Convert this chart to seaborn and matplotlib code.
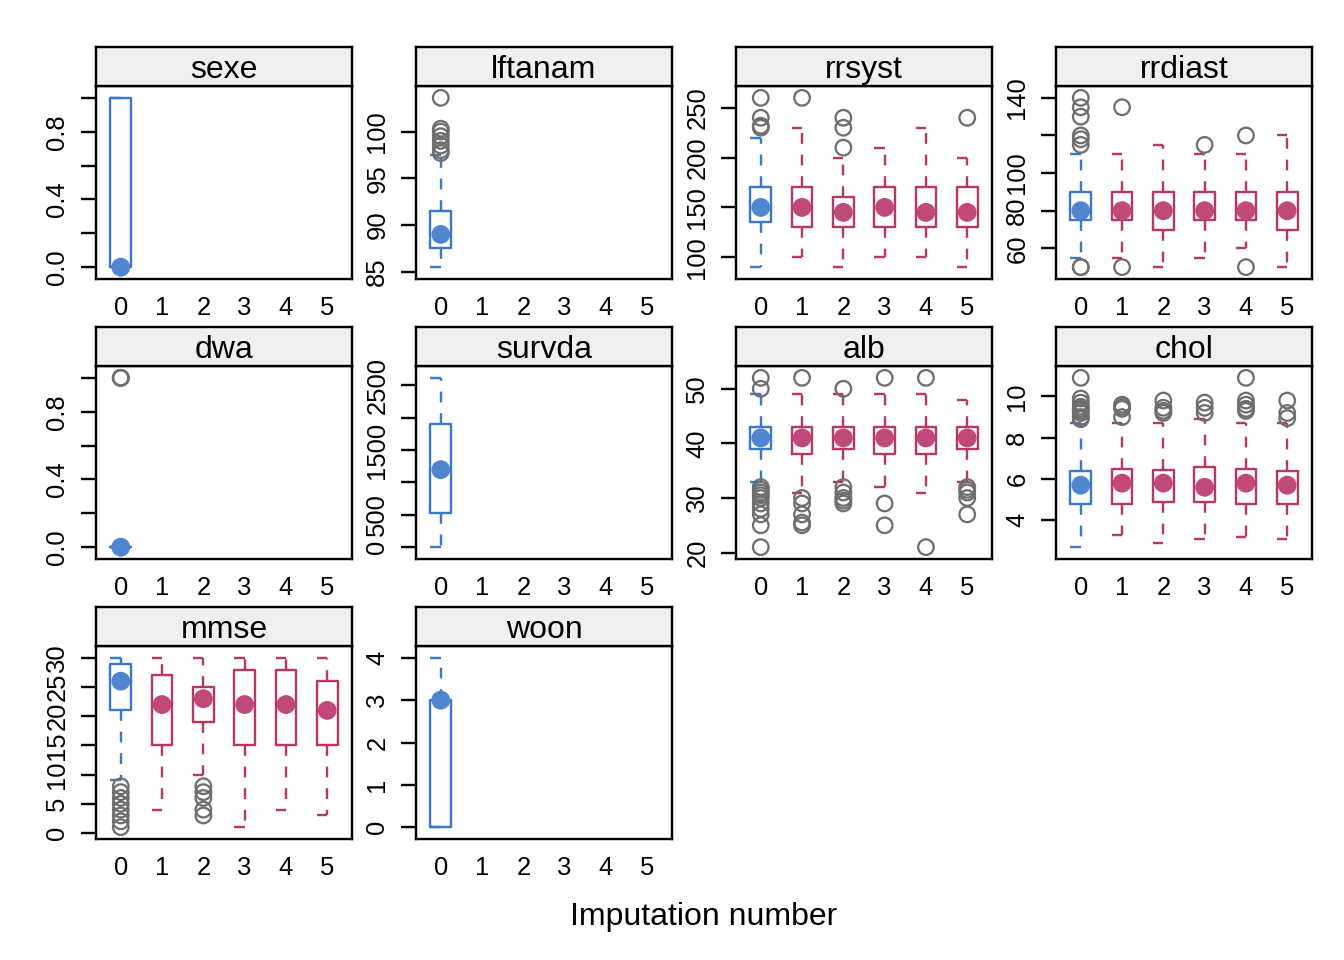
import numpy as np
import pandas as pd
import matplotlib
matplotlib.use("Agg")
import matplotlib.pyplot as plt
import seaborn as sns

# ---------------- data ----------------
imputations = [0, 1, 2, 3, 4, 5]
variables = ["sexe", "lftanam", "rrsyst", "rrdiast",
             "dwa", "survda", "alb", "chol",
             "mmse", "woon"]

# box stats per imputation: (whisker_low, q1, median, q3, whisker_high)
sexe_stats = [(0, 0, 0, 1, 1)]
sexe_out = [[]]

lftanam_stats = [(85.5, 87.5, 89.0, 91.5, 97.5)]
lftanam_out = [[97.7, 98.0, 98.5, 99.0, 99.5, 100.0, 100.3, 103.6]]

rrsyst_stats = [(90, 135, 150, 170, 220), (100, 130, 150, 170, 230),
                (90, 130, 145, 160, 200), (100, 130, 150, 170, 210),
                (100, 130, 145, 170, 230), (90, 130, 145, 170, 200)]
rrsyst_out = [[230, 232, 240, 260], [260], [210, 230, 240], [], [], [240]]

rrdiast_stats = [(55, 75, 80, 90, 110), (55, 75, 80, 90, 110),
                 (50, 70, 80, 90, 115), (55, 75, 80, 90, 110),
                 (60, 75, 80, 90, 110), (50, 70, 80, 90, 120)]
rrdiast_out = [[50, 50, 115, 118, 120, 130, 135, 140], [50, 135], [],
               [115], [50, 120], []]

dwa_stats = [(0, 0, 0, 0, 0)]
dwa_out = [[1, 1, 1]]

survda_stats = [(0, 534, 1196, 1894, 2613)]
survda_out = [[]]

alb_stats = [(33, 39, 41, 43, 49), (31, 38, 41, 43, 49),
             (33, 39, 41, 43, 49), (32, 38, 41, 43, 49),
             (31, 38, 41, 43, 49), (33, 39, 41, 43, 48)]
alb_out = [[52, 50, 32, 31.5, 31, 30.5, 30, 29, 28, 27, 25, 21],
           [52, 30, 29, 27, 25.5, 25],
           [50, 32, 31, 30, 29.5, 29],
           [52, 29, 25],
           [52, 21],
           [32, 31.5, 31, 30, 27]]

chol_stats = [(2.7, 4.8, 5.7, 6.4, 8.7), (3.3, 4.8, 5.8, 6.5, 8.7),
              (2.9, 4.9, 5.8, 6.45, 8.7), (3.1, 4.9, 5.6, 6.6, 8.9),
              (3.2, 4.8, 5.8, 6.5, 8.7), (3.1, 4.8, 5.7, 6.4, 8.7)]
chol_out = [[10.9, 9.9, 9.7, 9.5, 9.4, 9.3, 9.2, 9.0, 8.9],
            [9.6, 9.5, 9.4, 9.0],
            [9.8, 9.45, 9.3, 9.2],
            [9.7, 9.45, 9.2],
            [10.9, 9.8, 9.6, 9.4, 9.3],
            [9.8, 9.2, 8.95]]

mmse_stats = [(9, 21, 26, 29, 30), (4, 15, 22, 27, 30),
              (10, 19, 23, 25, 30), (1, 15, 22, 28, 30),
              (4, 15, 22, 28, 30), (3, 15, 21, 26, 30)]
mmse_out = [[1, 2, 3, 4, 5, 6, 7, 8], [], [8, 7, 6, 4, 3], [], [], []]

woon_stats = [(0, 0, 3, 3, 4)]
woon_out = [[]]

# y ticks and their labels (empty label = tick without text)
sexe_ticks = [0.0, 0.2, 0.4, 0.6, 0.8, 1.0]
sexe_labels = ["0.0", "", "0.4", "", "0.8", ""]
lftanam_ticks = [85, 90, 95, 100]
lftanam_labels = ["85", "90", "95", "100"]
rrsyst_ticks = [100, 150, 200, 250]
rrsyst_labels = ["100", "150", "200", "250"]
rrdiast_ticks = [60, 80, 100, 120, 140]
rrdiast_labels = ["60", "80", "100", "", "140"]
dwa_ticks = [0.0, 0.2, 0.4, 0.6, 0.8, 1.0]
dwa_labels = ["0.0", "", "0.4", "", "0.8", ""]
survda_ticks = [0, 500, 1000, 1500, 2000, 2500]
survda_labels = ["0", "500", "", "1500", "", "2500"]
alb_ticks = [20, 30, 40, 50]
alb_labels = ["20", "30", "40", "50"]
chol_ticks = [4, 6, 8, 10]
chol_labels = ["4", "6", "8", "10"]
mmse_ticks = [0, 5, 10, 15, 20, 25, 30]
mmse_labels = ["0", "5", "10", "15", "20", "25", "30"]
woon_ticks = [0, 1, 2, 3, 4]
woon_labels = ["0", "1", "2", "3", "4"]

panel_data = {
    "sexe": (sexe_stats, sexe_out, sexe_ticks, sexe_labels),
    "lftanam": (lftanam_stats, lftanam_out, lftanam_ticks, lftanam_labels),
    "rrsyst": (rrsyst_stats, rrsyst_out, rrsyst_ticks, rrsyst_labels),
    "rrdiast": (rrdiast_stats, rrdiast_out, rrdiast_ticks, rrdiast_labels),
    "dwa": (dwa_stats, dwa_out, dwa_ticks, dwa_labels),
    "survda": (survda_stats, survda_out, survda_ticks, survda_labels),
    "alb": (alb_stats, alb_out, alb_ticks, alb_labels),
    "chol": (chol_stats, chol_out, chol_ticks, chol_labels),
    "mmse": (mmse_stats, mmse_out, mmse_ticks, mmse_labels),
    "woon": (woon_stats, woon_out, woon_ticks, woon_labels),
}

# ---------------- style ----------------
sns.set_theme(style="white")
plt.rcParams["font.family"] = ["Liberation Sans", "DejaVu Sans"]
plt.rcParams["text.color"] = "black"
plt.rcParams["xtick.color"] = "black"
plt.rcParams["ytick.color"] = "black"
plt.rcParams["xtick.labelcolor"] = "black"
plt.rcParams["ytick.labelcolor"] = "black"

BLUE_LINE = "#3b78c9"
BLUE_DOT = "#4f86cf"
PINK_LINE = "#b83766"
PINK_DOT = "#c0497a"
GREY = "#6e6e6e"
LW = 0.9

W, H = 1344, 960
fig = plt.figure(figsize=(7, 5), dpi=192)

col_left = [96, 416, 736, 1056]
panel_w = 256
row_strip_top = [47, 327, 607]
strip_h = 39
panel_h = 193

for idx, var in enumerate(variables):
    r, c = divmod(idx, 4)
    stats, outs, ticks, labels = panel_data[var]
    x0 = col_left[c]
    top = row_strip_top[r]
    ax = fig.add_axes([x0 / W, (H - (top + strip_h + panel_h)) / H,
                       panel_w / W, panel_h / H])
    sax = fig.add_axes([x0 / W, (H - (top + strip_h)) / H,
                        panel_w / W, strip_h / H])

    # strip
    sax.set_facecolor("#efefef")
    sax.set_xticks([]); sax.set_yticks([])
    for sp in sax.spines.values():
        sp.set_color("black"); sp.set_linewidth(LW)
    sax.text(0.5, 0.40, var, ha="center", va="center", fontsize=12,
             color="black", transform=sax.transAxes)

    n = len(stats)
    pos = imputations[:n]
    line_cols = [BLUE_LINE if p == 0 else PINK_LINE for p in pos]

    # boxes
    for p, st, lc in zip(pos, stats, line_cols):
        lo, q1, med, q3, hi = st
        bst = [dict(whislo=lo, q1=q1, med=med, q3=q3, whishi=hi, fliers=[])]
        ax.bxp(bst, positions=[p], widths=0.5, showcaps=False,
               showfliers=False, patch_artist=False,
               boxprops=dict(color=lc, linewidth=LW),
               whiskerprops=dict(color=lc, linewidth=LW, linestyle=(0, (4.5, 4.5))),
               medianprops=dict(visible=False))
        ax.hlines([lo, hi], p - 0.25, p, colors=lc, linewidth=LW)

    # outliers
    ox, oy = [], []
    for p, o in zip(pos, outs):
        ox += [p] * len(o)
        oy += list(o)
    if oy:
        sns.scatterplot(x=ox, y=oy, ax=ax, marker="o", s=34,
                        facecolors="none", edgecolor=GREY, linewidth=0.85,
                        legend=False, zorder=3)

    # medians
    med_df = pd.DataFrame({"imp": pos, "med": [s[2] for s in stats],
                           "grp": ["obs" if p == 0 else "imp" for p in pos]})
    sns.scatterplot(data=med_df, x="imp", y="med", hue="grp", ax=ax,
                    palette={"obs": BLUE_DOT, "imp": PINK_DOT},
                    s=50, edgecolor="none", legend=False, zorder=4)

    # limits
    allv = [v for s in stats for v in (s[0], s[4])] + [v for o in outs for v in o]
    vmin, vmax = min(allv), max(allv)
    rng = vmax - vmin
    ax.set_ylim(vmin - 0.07 * rng, vmax + 0.07 * rng)
    ax.set_xlim(-0.6, 5.6)

    ax.set_xticks(imputations)
    ax.set_xticklabels([str(i) for i in imputations], fontsize=9.6, color="black")
    ax.set_yticks(ticks)
    ax.set_yticklabels(labels, fontsize=9.6, rotation=90, va="center", color="black")
    ax.tick_params(axis="x", length=0, pad=6.5)
    ax.tick_params(axis="y", length=5.5, width=LW, pad=4.5, left=True,
                   color="black")
    ax.set_xlabel(""); ax.set_ylabel("")
    for sp in ax.spines.values():
        sp.set_color("black"); sp.set_linewidth(LW)

fig.text(704 / W, 1 - 917 / H, "Imputation number", ha="center",
         va="center", fontsize=12, color="black")

fig.savefig("out.png", dpi=192)
